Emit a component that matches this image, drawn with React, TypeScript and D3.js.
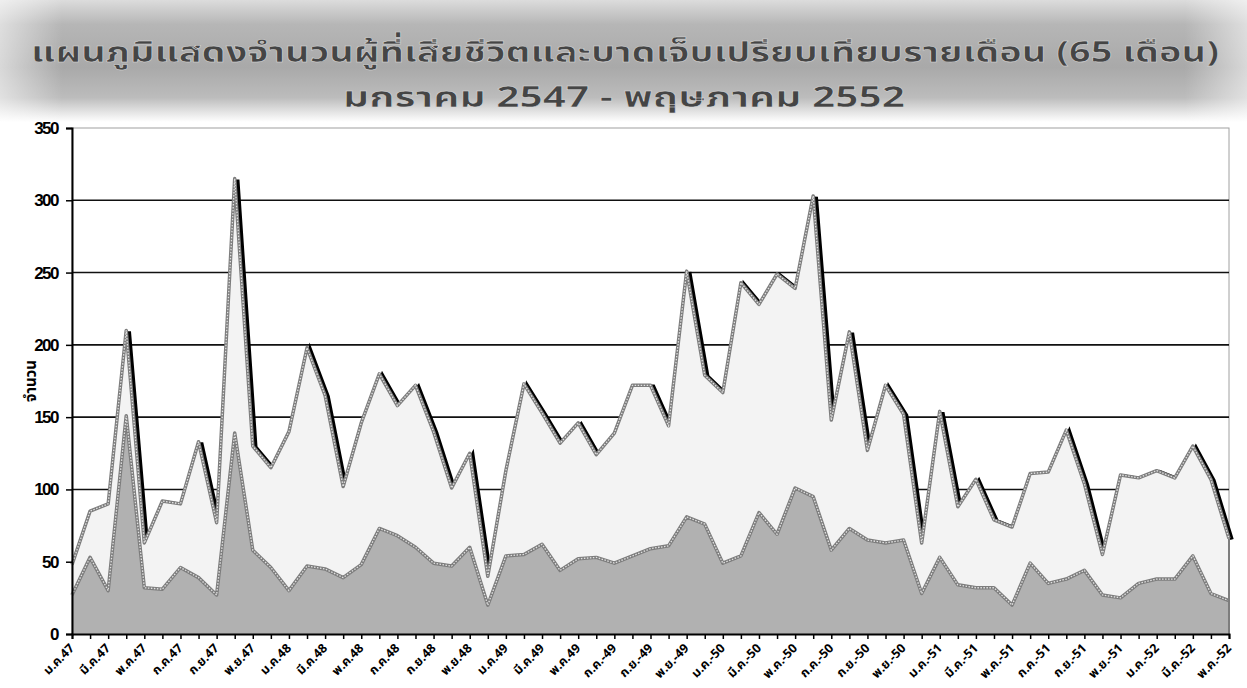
import React, { useEffect, useRef } from 'react';
import * as d3 from 'd3';

// month labels (every 2nd month shown), Jan 2547 - May 2552
const monthNames = ['ม.ค.', 'ก.พ.', 'มี.ค.', 'เม.ย.', 'พ.ค.', 'มิ.ย.', 'ก.ค.', 'ส.ค.', 'ก.ย.', 'ต.ค.', 'พ.ย.', 'ธ.ค.'];
const years = [47, 48, 49, 50, 51, 52];

// ผู้เสียชีวิตและบาดเจ็บ (upper line)
const total = [
  48, 85, 90, 210, 63, 92, 90, 133, 77, 315,
  130, 115, 140, 198, 165, 102, 146, 180, 158, 172,
  140, 101, 125, 40, 113, 173, 153, 132, 146, 124,
  139, 172, 172, 144, 251, 179, 167, 243, 228, 249,
  239, 303, 148, 209, 127, 172, 152, 63, 154, 88,
  107, 79, 74, 111, 112, 141, 104, 55, 110, 108,
  113, 108, 130, 107, 66
];

// ผู้เสียชีวิต (lower area)
const deaths = [
  27, 53, 30, 151, 32, 31, 46, 39, 27, 139,
  58, 46, 30, 47, 45, 39, 48, 73, 68, 60,
  49, 47, 60, 20, 54, 55, 62, 44, 52, 53,
  49, 54, 59, 61, 81, 76, 49, 54, 84, 69,
  101, 95, 58, 73, 65, 63, 65, 28, 53, 34,
  32, 32, 20, 49, 35, 38, 44, 27, 25, 35,
  38, 38, 54, 28, 23
];

const yTicks = [0, 50, 100, 150, 200, 250, 300, 350];

const months: { m: string; y: number }[] = [];
years.forEach(y => monthNames.forEach(m => months.push({ m, y })));
const labels = months.slice(0, 65).map((d, i) => {
  if (i % 2 !== 0) return '';
  return i >= 30 ? `${d.m}-${d.y}` : `${d.m}${d.y}`;
});

export default function App() {
  const ref = useRef<SVGSVGElement>(null);

  useEffect(() => {
    const svg = d3.select(ref.current);
    svg.selectAll('*').remove();

    const W = 1247, H = 688;
    const left = 72, right = 1229, top = 128, bottom = 634;

    const defs = svg.append('defs');
    const vg = defs.append('linearGradient').attr('id', 'bannerV').attr('x1', 0).attr('x2', 0).attr('y1', 0).attr('y2', 1);
    [[0, '#dcdcdc'], [0.2, '#b6b6b6'], [0.55, '#a9a9a9'], [0.8, '#bcbcbc'], [0.93, '#e8e8e8'], [1, '#ffffff']]
      .forEach(([o, c]) => vg.append('stop').attr('offset', o as number).attr('stop-color', c as string));
    const hg = defs.append('linearGradient').attr('id', 'bannerH').attr('x1', 0).attr('x2', 1).attr('y1', 0).attr('y2', 0);
    [[0, 0.55], [0.05, 0], [0.95, 0], [1, 0.55]]
      .forEach(([o, a]) => hg.append('stop').attr('offset', o).attr('stop-color', '#fff').attr('stop-opacity', a));

    svg.append('rect').attr('width', W).attr('height', H).attr('fill', '#fff');
    svg.append('rect').attr('width', W).attr('height', 122).attr('fill', 'url(#bannerV)');
    svg.append('rect').attr('width', W).attr('height', 122).attr('fill', 'url(#bannerH)');

    const titleFont = '"Noto Sans Thai", "Noto Sans", "DejaVu Sans", sans-serif';
    svg.append('text')
      .attr('x', 625).attr('y', 62)
      .attr('text-anchor', 'middle')
      .attr('textLength', 1188).attr('lengthAdjust', 'spacingAndGlyphs')
      .style('font-family', titleFont).style('font-size', '29px').style('font-weight', 'bold')
      .attr('fill', '#454545').attr('stroke', '#ddd').attr('stroke-width', 0.5)
      .text('แผนภูมิแสดงจำนวนผู้ที่เสียชีวิตและบาดเจ็บเปรียบเทียบรายเดือน (65 เดือน)');
    svg.append('text')
      .attr('x', 624).attr('y', 107)
      .attr('text-anchor', 'middle')
      .attr('textLength', 562).attr('lengthAdjust', 'spacingAndGlyphs')
      .style('font-family', titleFont).style('font-size', '29px').style('font-weight', 'bold')
      .attr('fill', '#454545').attr('stroke', '#ddd').attr('stroke-width', 0.5)
      .text('มกราคม 2547 - พฤษภาคม 2552');

    const x = d3.scaleLinear().domain([0, total.length - 1]).range([left, right]);
    const y = d3.scaleLinear().domain([0, 350]).range([bottom, top]);

    const g = svg.append('g');

    // plot frame
    g.append('rect').attr('x', left).attr('y', top).attr('width', right - left).attr('height', bottom - top)
      .attr('fill', '#fff').attr('stroke', '#a0a0a0').attr('stroke-width', 1);

    // gridlines
    g.selectAll('.grid').data(yTicks.filter(t => t > 0 && t < 350)).join('line')
      .attr('class', 'grid')
      .attr('x1', left).attr('x2', right)
      .attr('y1', d => y(d)).attr('y2', d => y(d))
      .attr('stroke', '#111').attr('stroke-width', 1.6);

    const line = d3.line<number>().x((d, i) => x(i)).y(d => y(d));
    const area = d3.area<number>().x((d, i) => x(i)).y0(y(0)).y1(d => y(d));

    // shadow of upper line
    g.append('path').datum(total).attr('d', line).attr('fill', 'none')
      .attr('stroke', '#000').attr('stroke-width', 3.5)
      .attr('transform', 'translate(3,1)');

    g.append('path').datum(total).attr('d', area).attr('fill', '#f3f3f3');
    g.append('path').datum(deaths).attr('d', area).attr('fill', '#b1b1b1');

    [total, deaths].forEach(s => {
      g.append('path').datum(s).attr('d', line).attr('fill', 'none')
        .attr('stroke', '#7d7d7d').attr('stroke-width', 3.5).attr('stroke-linejoin', 'round');
      g.append('path').datum(s).attr('d', line).attr('fill', 'none')
        .attr('stroke', '#e2e2e2').attr('stroke-width', 1.3).attr('stroke-dasharray', '1.5 1.5');
    });

    // right edge of areas
    g.append('line').attr('x1', right).attr('x2', right).attr('y1', y(total[total.length - 1])).attr('y2', bottom)
      .attr('stroke', '#7d7d7d').attr('stroke-width', 2);

    // y axis
    const yAxis = g.append('g').attr('transform', `translate(${left},0)`)
      .call(d3.axisLeft(y).tickValues(yTicks).tickSize(6).tickPadding(8));
    yAxis.select('.domain').attr('stroke', '#000').attr('stroke-width', 2);
    yAxis.selectAll('.tick line').attr('stroke', '#000').attr('stroke-width', 1.5);
    yAxis.selectAll('.tick text')
      .style('font-family', '"Liberation Sans Narrow", "Liberation Sans", Arial, sans-serif')
      .style('font-size', '17px').style('font-weight', 'bold').attr('fill', '#000')
      .attr('letter-spacing', -1.5);

    // x axis
    const xAxis = g.append('g').attr('transform', `translate(0,${bottom})`)
      .call(d3.axisBottom(x).tickValues(d3.range(total.length)).tickSize(5).tickFormat(() => ''));
    xAxis.select('.domain').attr('stroke', '#000').attr('stroke-width', 2);
    xAxis.selectAll('.tick line').attr('stroke', '#000').attr('stroke-width', 1.5);

    g.selectAll('.xlab').data(labels).join('text')
      .attr('class', 'xlab')
      .attr('transform', (d, i) => `translate(${x(i) + 3},${bottom + 15}) rotate(-45)`)
      .attr('text-anchor', 'end')
      .style('font-family', '"Noto Sans Thai", "Noto Sans", sans-serif')
      .style('font-size', '12.5px').style('font-weight', 'bold').attr('fill', '#000')
      .text(d => d);

    // y label
    svg.append('text')
      .attr('transform', 'translate(36,381) rotate(-90)')
      .attr('text-anchor', 'middle')
      .style('font-family', '"Noto Sans Thai", "Noto Sans", sans-serif')
      .style('font-size', '15px').style('font-weight', 'bold').attr('fill', '#000')
      .text('จำนวน');
  }, []);

  return (
    <svg ref={ref} width={1247} height={688} style={{ position: 'absolute', left: 0, top: 0 }} />
  );
}
